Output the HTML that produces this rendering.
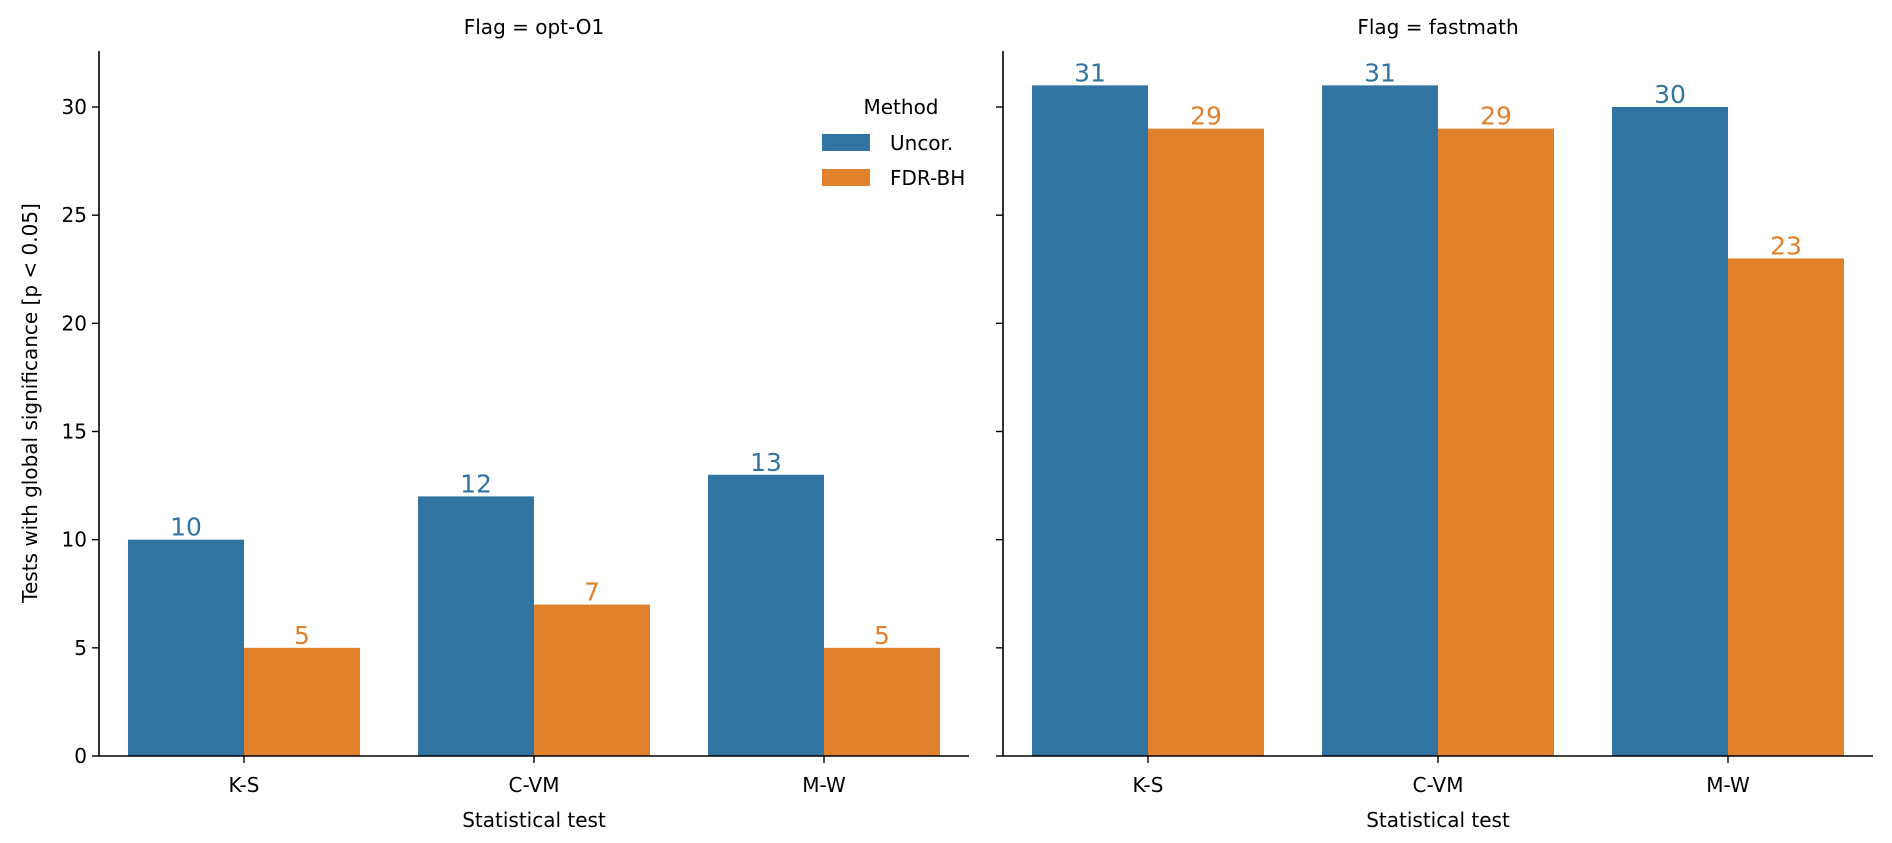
<!DOCTYPE html>
<html><head><meta charset="utf-8"><style>
html,body{margin:0;padding:0;background:#fff;}
svg{display:block;font-family:"DejaVu Sans","Liberation Sans",sans-serif;}
</style></head><body>
<svg id="chart" width="1892" height="843" viewBox="0 0 1892 843" xmlns="http://www.w3.org/2000/svg"></svg>
<script>
const categories = ["K-S", "C-VM", "M-W"];
const panels = ["opt-O1", "fastmath"];
const seriesNames = ["Uncor.", "FDR-BH"];
const uncorO1 = [10, 12, 13];
const fdrO1 = [5, 7, 5];
const uncorFast = [31, 31, 30];
const fdrFast = [29, 29, 23];
const yTicks = [0, 5, 10, 15, 20, 25, 30];

const colors = ["#3274a1", "#e1812c"];
const NS = "http://www.w3.org/2000/svg";
const svg = document.getElementById("chart");
function mk(tag, attrs, parent) {
  const e = document.createElementNS(NS, tag);
  for (const k in attrs) e.setAttribute(k, attrs[k]);
  (parent || svg).appendChild(e);
  return e;
}
const y0 = 756, yTop = 51, pxPerUnit = (756 - 107) / 30;
function yScale(v) { return y0 - v * pxPerUnit; }
const panelX = [99, 1003], panelW = 870;
function xBand(p, i) { return panelX[p] + i * panelW / categories.length; }
const bandW = panelW / categories.length;
const data = [[uncorO1, fdrO1], [uncorFast, fdrFast]];

panels.forEach((pname, p) => {
  const g = mk("g", {});
  
  
  // bars
  data[p].forEach((vals, s) => {
    vals.forEach((v, i) => {
      const x = xBand(p, i) + bandW * 0.1 + s * bandW * 0.4;
      const r = mk("rect", {x: x, y: yScale(v), width: bandW * 0.4, height: y0 - yScale(v), fill: colors[s]}, g);
      
      
      const t = mk("text", {x: x + bandW * 0.2, y: yScale(v) - 4, "text-anchor": "middle", "font-size": 25, fill: colors[s]}, g);
      t.textContent = v;
      
      
    });
  });
  // spines
  const sp = mk("path", {d: `M${panelX[p]} ${yTop}V${y0}H${panelX[p] + panelW}`, stroke: "#000", "stroke-width": 1.6, fill: "none"}, g);
  
  
  // y ticks
  yTicks.forEach(v => {
    const tk = mk("line", {x1: panelX[p] - 7, x2: panelX[p], y1: yScale(v), y2: yScale(v), stroke: "#000", "stroke-width": 1.4}, g);
    
    
    if (p === 0) {
      const tl = mk("text", {x: panelX[p] - 12, y: yScale(v) + 7, "text-anchor": "end", "font-size": 20, fill: "#000"}, g);
      tl.textContent = v;
      
      
    }
  });
  // x ticks
  categories.forEach((c, i) => {
    const cx = xBand(p, i) + bandW / 2;
    const tk = mk("line", {x1: cx, x2: cx, y1: y0, y2: y0 + 7, stroke: "#000", "stroke-width": 1.4}, g);
    
    
    const tl = mk("text", {x: cx, y: y0 + 36, "text-anchor": "middle", "font-size": 20, fill: "#000"}, g);
    tl.textContent = c;
    
    
  });
  const xl = mk("text", {x: panelX[p] + panelW / 2, y: 827, "text-anchor": "middle", "font-size": 20, fill: "#000"}, g);
  xl.textContent = "Statistical test";
  
  
  const tt = mk("text", {x: panelX[p] + panelW / 2, y: 34, "text-anchor": "middle", "font-size": 20, fill: "#000"}, g);
  tt.textContent = "Flag = " + pname;
  
  
});

const yl = mk("text", {x: 0, y: 0, transform: "translate(37,403) rotate(-90)", "text-anchor": "middle", "font-size": 20, fill: "#000"});
yl.textContent = "Tests with global significance [p < 0.05]";



const lg = mk("g", {});


const lt = mk("text", {x: 901, y: 114, "text-anchor": "middle", "font-size": 20, fill: "#000"}, lg);
lt.textContent = "Method";


seriesNames.forEach((n, s) => {
  const yy = 134 + s * 35;
  const r = mk("rect", {x: 822, y: yy, width: 48, height: 17, fill: colors[s]}, lg);
  
  
  const t = mk("text", {x: 890, y: yy + 16, "font-size": 20, fill: "#000"}, lg);
  t.textContent = n;
  
  
});
</script>
</body></html>
